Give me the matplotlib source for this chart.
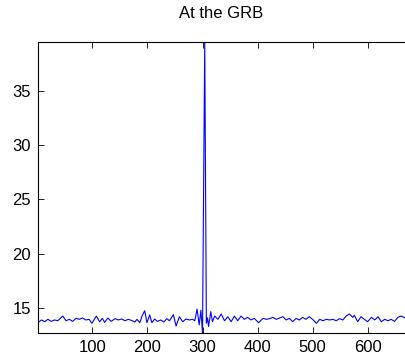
#!/usr/bin/env python3
"""
At the GRB - single trace with a sharp peak near sample 304
"""

import matplotlib
matplotlib.use("Agg")
import matplotlib.pyplot as plt

# Sample positions (local extrema)
sample = [1, 7, 13, 19, 25, 31, 37, 46, 52, 58, 64, 70, 76, 82, 88, 94, 99,
          107, 113, 118, 122, 128, 134, 141, 147, 153, 159, 165, 171, 177,
          181, 186, 190, 195, 199, 204, 208, 213, 218, 224, 230, 235, 240,
          247, 252, 258, 264, 270, 276, 282, 286, 290, 294, 297, 300, 304,
          307, 309, 311, 315, 318, 322, 328, 334, 340, 346, 352, 358, 364,
          370, 376, 382, 388, 394, 402, 410, 416, 422, 428, 434, 440, 446,
          452, 458, 464, 470, 476, 482, 488, 494, 500, 507, 513, 519, 525,
          531, 537, 543, 549, 555, 561, 567, 573, 576, 582, 588, 594, 600,
          607, 613, 619, 625, 631, 637, 643, 649, 655, 661, 668]

# Amplitude at each sample
amplitude = [13.65, 13.90, 13.74, 13.96, 13.77, 13.90, 13.83, 14.26, 13.83,
             13.96, 13.77, 14.05, 13.96, 14.08, 13.90, 13.96, 13.59, 14.26,
             13.74, 14.05, 13.68, 14.08, 13.77, 14.02, 13.90, 13.99, 13.83,
             13.96, 13.86, 13.71, 13.96, 13.65, 14.26, 14.75, 13.65, 14.36,
             13.65, 13.99, 13.77, 13.90, 13.71, 14.02, 13.83, 14.39, 13.34,
             14.20, 13.74, 13.99, 13.90, 13.96, 13.83, 14.90, 13.45, 14.80,
             12.70, 39.50, 13.60, 14.10, 13.30, 14.66, 13.74, 14.26, 13.96,
             14.45, 13.83, 14.20, 13.74, 14.26, 13.83, 14.26, 13.96, 14.14,
             13.90, 14.05, 13.65, 14.05, 13.96, 14.02, 14.14, 13.96, 14.08,
             14.20, 13.90, 14.05, 13.74, 14.05, 13.90, 14.14, 13.96, 14.20,
             13.96, 13.59, 13.96, 13.83, 13.96, 13.90, 13.96, 13.83, 14.02,
             13.90, 14.26, 14.45, 14.14, 14.33, 13.74, 14.20, 13.96, 13.74,
             14.14, 13.90, 14.20, 13.74, 13.96, 13.83, 13.96, 13.77, 14.14,
             14.26, 14.10]

yticks = [15, 20, 25, 30, 35]
xticks = [100, 200, 300, 400, 500, 600]

plt.rcParams['font.family'] = ['Liberation Sans', 'DejaVu Sans']

fig = plt.figure(figsize=(4.05, 3.63), dpi=100)
ax = fig.add_axes([38 / 405, 1 - 333 / 363, 1 - 38 / 405, (333 - 42) / 363])

ax.plot(sample, amplitude, color=(0, 0, 1), linewidth=0.8)

ax.set_xlim(1, 668)
ax.set_ylim(12.7, 39.5)
ax.set_xticks(xticks)
ax.set_yticks(yticks)
ax.tick_params(direction='in', top=True, right=False, length=4,
               width=0.6, labelsize=12, pad=5)
for side in ('left', 'bottom', 'top'):
    ax.spines[side].set_linewidth(0.8)
ax.spines['right'].set_visible(False)

ax.set_title('At the GRB', fontsize=12, pad=17)

fig.savefig('out.png', dpi=100)
